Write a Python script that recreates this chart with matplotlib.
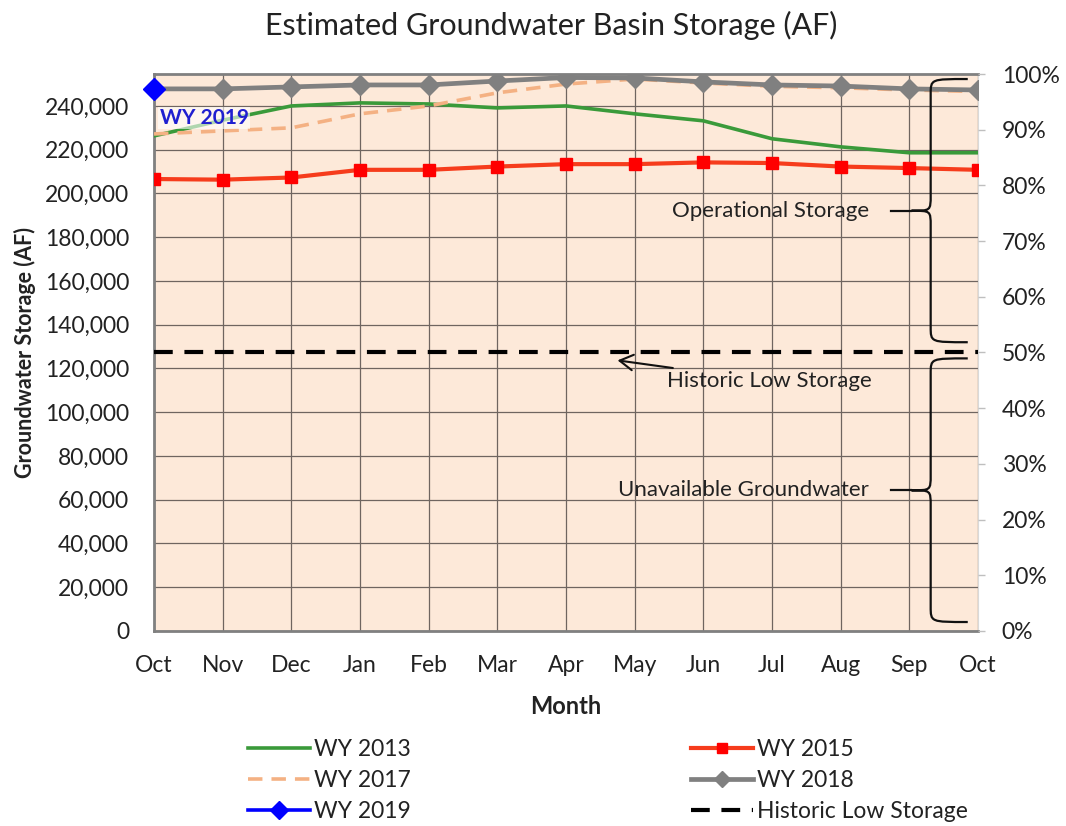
import numpy as np
import matplotlib
matplotlib.use("Agg")
import matplotlib.pyplot as plt
from matplotlib.path import Path
from matplotlib.patches import PathPatch
from matplotlib.ticker import FuncFormatter, MultipleLocator

plt.rcParams['font.family'] = ['Lato', 'DejaVu Sans']

# data (acre-feet)
months = ["Oct", "Nov", "Dec", "Jan", "Feb", "Mar", "Apr",
          "May", "Jun", "Jul", "Aug", "Sep", "Oct"]
wy2013 = [226300, 233500, 240000, 241400, 240900, 239100, 240000,
          236400, 233200, 225000, 221300, 218600, 218600]
wy2015 = [206600, 206300, 207300, 210800, 210800, 212300, 213400,
          213400, 214200, 213900, 212300, 211600, 210800]
wy2017 = [227200, 228600, 230000, 236400, 240000, 246000, 250000,
          252300, 250500, 249000, 248300, 247300, 246600]
wy2018 = [247800, 247800, 248700, 249600, 249600, 251400, 253000,
          252800, 251000, 249600, 249100, 247800, 247300]
wy2019 = [247800]
historic_low = 127300
full_storage = 254600

x = np.arange(len(months))

fig = plt.figure(figsize=(10.66, 8.26), dpi=100)
ax = fig.add_axes([0.1445, 0.2361, 0.773, 0.6743])
ax.set_facecolor("#fde9d9")

l13, = ax.plot(x, wy2013, color="#3a9a3a", lw=2.6, label="WY 2013", zorder=3)
l17, = ax.plot(x, wy2017, color="#f4b183", lw=2.6, ls=(0, (4, 2.5)),
               label="WY 2017", zorder=3)
l15, = ax.plot(x, wy2015, color="#f63c1c", lw=3, marker="s", ms=9,
               mfc="#ff0000", mec="#ff0000", label="WY 2015", zorder=4)
l18, = ax.plot(x, wy2018, color="#808080", lw=3.4, marker="D", ms=10.5,
               mfc="#808080", mec="#808080", label="WY 2018", zorder=5)
l19, = ax.plot(x[:len(wy2019)], wy2019, color="#0000ff", lw=2.6, marker="D",
               ms=11.5, mfc="#0000ff", mec="#0000ff", label="WY 2019",
               zorder=6, clip_on=False)
lhl, = ax.plot([x[0], x[-1]], [historic_low, historic_low], color="black",
               lw=3, ls=(0, (4.5, 2.8)), label="Historic Low Storage", zorder=4)

ax.set_xlim(0, len(months) - 1)
ax.set_ylim(0, full_storage)
ax.set_xticks(x)
ax.set_xticklabels(months)
ax.yaxis.set_major_locator(MultipleLocator(20000))
ax.yaxis.set_major_formatter(FuncFormatter(lambda v, p: f"{int(v):,}"))
ax.grid(True, color="#6f6560", lw=0.9)
ax.set_axisbelow(True)
ax.tick_params(axis="both", length=0, labelsize=16.5, colors="#222222")
ax.tick_params(axis="y", pad=18)
ax.tick_params(axis="x", pad=17)
for side in ["left", "bottom", "top"]:
    ax.spines[side].set_color("#808080")
    ax.spines[side].set_linewidth(2)
ax.spines["right"].set_color("#d9d9d9")

ax2 = ax.twinx()
ax2.set_ylim(0, 100)
ax2.yaxis.set_major_locator(MultipleLocator(10))
ax2.yaxis.set_major_formatter(FuncFormatter(lambda v, p: f"{int(v)}%"))
ax2.tick_params(axis="y", length=5, width=1, colors="#bfbfbf",
                labelcolor="#222222", labelsize=16.5, pad=12)
for s in ax2.spines.values():
    s.set_visible(False)

ax.set_title("Estimated Groundwater Basin Storage (AF)", fontsize=22,
             color="#222222", pad=28, x=0.482)
ax.set_ylabel("Groundwater Storage (AF)", fontsize=15.5, fontweight="bold",
              color="#222222", labelpad=6)
ax.set_xlabel("Month", fontsize=17, fontweight="bold", color="#222222",
              labelpad=14)

ax.text(0.08, 234500, "WY 2019", color="#1f1fd0", fontsize=15,
        fontweight="bold", va="center", ha="left", zorder=7,
        bbox=dict(facecolor="white", edgecolor="none", alpha=0.6, pad=1))


def brace(y_top, y_bot, y_mid, xv=11.31, xe=11.85, xt=11.03, r=7000):
    verts = [(xe, y_top), (xv, y_top), (xv, y_top), (xv, y_top - r),
             (xv, y_mid + r),
             (xv, y_mid), (xv, y_mid), (xt, y_mid),
             (xv, y_mid), (xv, y_mid), (xv, y_mid - r),
             (xv, y_bot + r),
             (xv, y_bot), (xv, y_bot), (xe, y_bot)]
    codes = [Path.MOVETO, Path.CURVE4, Path.CURVE4, Path.CURVE4,
             Path.LINETO,
             Path.CURVE4, Path.CURVE4, Path.CURVE4,
             Path.CURVE4, Path.CURVE4, Path.CURVE4,
             Path.LINETO,
             Path.CURVE4, Path.CURVE4, Path.CURVE4]
    ax.add_patch(PathPatch(Path(verts, codes), fill=False, lw=1.6,
                           color="#111111", zorder=6, clip_on=False))
    ax.plot([xt - 0.3, xt], [y_mid, y_mid], color="#111111", lw=1.6, zorder=6)


brace(252300, 132000, 192100)
brace(124600, 4100, 64300)

ax.text(10.41, 192100, "Operational Storage", fontsize=16, ha="right",
        va="center", color="#222222", zorder=7)
ax.text(10.41, 64300, "Unavailable Groundwater", fontsize=16, ha="right",
        va="center", color="#222222", zorder=7)
ax.annotate("Historic Low Storage", xy=(6.75, 123700), xytext=(7.47, 114100),
            fontsize=16, ha="left", va="center", color="#222222", zorder=7,
            arrowprops=dict(arrowstyle="->,head_length=0.6,head_width=0.35",
                            color="#111111", lw=1.5, shrinkA=3, shrinkB=0))

fig.legend(handles=[l13, l17, l19, l15, l18, lhl], loc="upper left",
           bbox_to_anchor=(248 / 1066, 1 - 739 / 826), ncol=2, frameon=False,
           fontsize=16.5, handlelength=2.7, columnspacing=12.2,
           labelspacing=0.43, handletextpad=0.2, borderpad=0,
           borderaxespad=0, labelcolor="#222222", markerscale=0.8)

fig.savefig("out.png", dpi=100)
